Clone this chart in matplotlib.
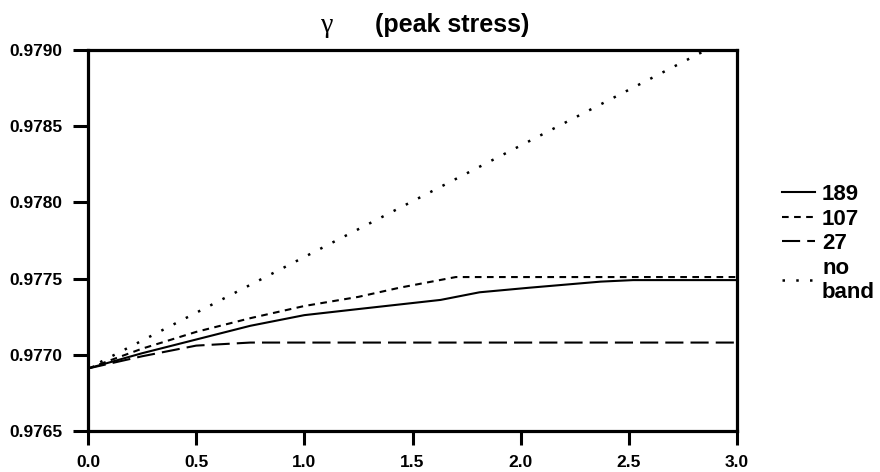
import numpy as np
import matplotlib
matplotlib.use('Agg')
import matplotlib.pyplot as plt

plt.rcParams['font.family'] = ['Liberation Sans', 'DejaVu Sans']
plt.rcParams['font.weight'] = 'bold'

# values
x_189 = [0.0, 0.25, 0.5, 0.75, 1.0, 1.25, 1.44, 1.63, 1.81, 2.04, 2.37, 2.52, 3.0]
y_189 = [0.97691, 0.97701, 0.97710, 0.97719, 0.97726, 0.97730, 0.97733, 0.97736, 0.97741, 0.97744, 0.97748, 0.97749, 0.97749]

x_107 = [0.0, 0.25, 0.5, 0.75, 1.0, 1.25, 1.44, 1.7, 2.0, 2.5, 3.0]
y_107 = [0.97691, 0.97704, 0.97715, 0.97724, 0.97732, 0.97738, 0.97744, 0.97751, 0.97751, 0.97751, 0.97751]

x_27 = [0.0, 0.25, 0.5, 0.75, 1.0, 2.0, 3.0]
y_27 = [0.97691, 0.97699, 0.97706, 0.97708, 0.97708, 0.97708, 0.97708]

x_noband = [0.0, 2.857]
y_noband = [0.97691, 0.97900]

xticks = [0.0, 0.5, 1.0, 1.5, 2.0, 2.5, 3.0]
yticks = [0.9765, 0.9770, 0.9775, 0.9780, 0.9785, 0.9790]

fig = plt.figure(figsize=(8.8, 4.72), dpi=100)
ax = fig.add_axes([0.1, 0.087, 0.7375, 0.807])

ax.plot(x_189, y_189, color='black', lw=1.5, ls='-', label='189')
ax.plot(x_107, y_107, color='black', lw=1.5, ls=(0, (3.2, 2.6)), label='107')
ax.plot(x_27, y_27, color='black', lw=1.5, ls=(0, (8.7, 3.4)), label='27')
ax.plot(x_noband, y_noband, color='black', lw=1.8, ls=(0, (1, 4.5)), label='no\nband')

ax.set_xlim(0, 3.0)
ax.set_ylim(0.9765, 0.9790)
ax.set_xticks(xticks)
ax.set_xticklabels(['%.1f' % t for t in xticks])
ax.set_yticks(yticks)
ax.set_yticklabels(['%.4f' % t for t in yticks])
ax.tick_params(axis='both', direction='out', width=2.2, labelsize=12.5)
ax.tick_params(axis='x', length=10, pad=7)
ax.tick_params(axis='y', length=10.5, pad=8)
for s in ax.spines.values():
    s.set_linewidth(2.3)

leg = fig.legend(loc='upper left', bbox_to_anchor=(782 / 880, 1 - 184 / 472), frameon=False,
                 borderpad=0, borderaxespad=0,
                 handlelength=1.5, handletextpad=0.3, labelspacing=0.16,
                 prop={'size': 16, 'weight': 'bold'})

fig.text(327 / 880, 1 - 26 / 472, 'γ', fontsize=20, family='Liberation Serif', weight='normal',
         ha='center', va='center')
fig.text(375 / 880, 1 - 25 / 472, '(peak stress)', fontsize=18, weight='bold', ha='left', va='center')

fig.savefig('out.png', dpi=100)
